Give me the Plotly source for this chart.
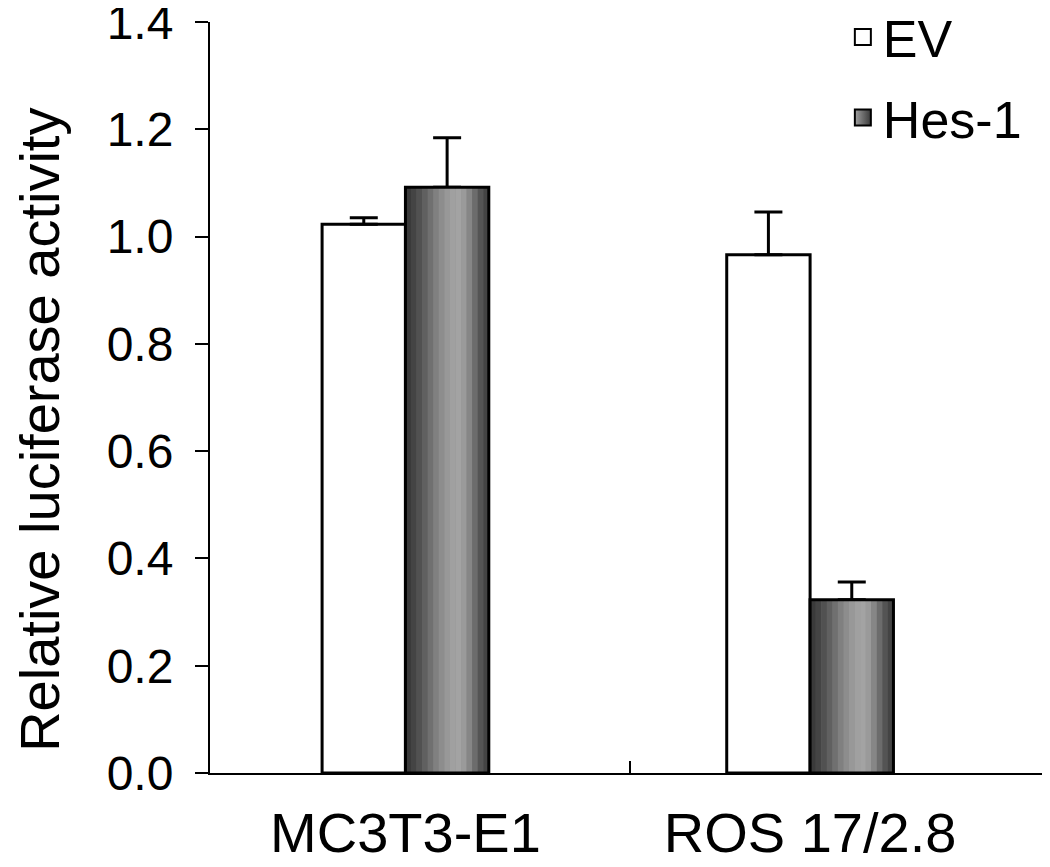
import plotly.graph_objects as go

# ---- data ----
categories = ["MC3T3-E1", "ROS 17/2.8"]
ev_values = [1.023, 0.966]
ev_errors = [0.012, 0.080]
hes_values = [1.092, 0.323]
hes_errors = [0.092, 0.033]
series_names = ["EV", "Hes-1"]
y_ticks = [0.0, 0.2, 0.4, 0.6, 0.8, 1.0, 1.2, 1.4]
y_title = "Relative luciferase activity"

# ---- style ----
FONT = "Liberation Sans, Arial, sans-serif"
BAR_W = 0.206
STRIPES = ['#3a3a3a', '#444444', '#515151', '#606060', '#707070', '#808080', '#8d8d8d',
           '#989898', '#a0a0a0', '#a3a3a3', '#9a9a9a', '#868686', '#6c6c6c', '#545454', '#444444']

xpos = list(range(len(categories)))
err_style = dict(type="data", symmetric=False, thickness=3, width=14, color="black")

fig = go.Figure()

# EV bars
fig.add_trace(go.Bar(
    x=xpos, y=ev_values, width=BAR_W, offset=-BAR_W,
    marker=dict(color="white", line=dict(color="black", width=3)),
    error_y=dict(array=ev_errors, arrayminus=[0] * len(ev_values), **err_style),
    showlegend=False, name=series_names[0]))

# Hes-1 base bar (carries error bars)
fig.add_trace(go.Bar(
    x=xpos, y=hes_values, width=BAR_W, offset=0,
    marker=dict(color="#7a7a7a", line=dict(color="black", width=0)),
    error_y=dict(array=hes_errors, arrayminus=[0] * len(hes_values), **err_style),
    showlegend=False, name=series_names[1]))

# Hes-1 gradient stripes
n = len(STRIPES)
sw = BAR_W / n
for k, c in enumerate(STRIPES):
    fig.add_trace(go.Bar(
        x=xpos, y=hes_values, width=sw * 1.05, offset=k * sw,
        marker=dict(color=c, line=dict(width=0)),
        showlegend=False, hoverinfo="skip"))

# Hes-1 outline
fig.add_trace(go.Bar(
    x=xpos, y=hes_values, width=BAR_W, offset=0,
    marker=dict(color="rgba(0,0,0,0)", line=dict(color="black", width=3)),
    showlegend=False, hoverinfo="skip"))

# legend entries
fig.add_trace(go.Scatter(
    x=[None], y=[None], mode="markers", name=series_names[0], legendgroup="a",
    marker=dict(symbol="square", size=16, color="white", line=dict(color="black", width=2))))
fig.add_trace(go.Scatter(
    x=[None], y=[None], mode="markers", name=series_names[1], legendgroup="b",
    marker=dict(symbol="square", size=16, color="#a0a0a0",
                gradient=dict(type="horizontal", color="#3a3a3a"),
                line=dict(color="black", width=2))))

fig.add_annotation(
    text=y_title, xref="paper", yref="paper", x=-0.2033, y=0.457,
    xanchor="center", yanchor="middle", textangle=-90, showarrow=False,
    font=dict(size=56, family=FONT, color="black"))

fig.update_layout(
    width=1042, height=859,
    margin=dict(l=202, r=4, t=14, b=94, autoexpand=False),
    paper_bgcolor="white", plot_bgcolor="white",
    barmode="overlay",
    font=dict(family=FONT, color="black"),
    legend=dict(x=0.757, y=1.0337, xanchor="left", yanchor="top",
                font=dict(size=52, family=FONT), bgcolor="rgba(0,0,0,0)",
                traceorder="grouped", tracegroupgap=10),
    xaxis=dict(
        range=[-0.483, 1.583], showgrid=False, zeroline=False, automargin=False,
        showline=True, linecolor="black", linewidth=2,
        tickmode="array", tickvals=xpos, ticktext=categories, ticks="",
        tickfont=dict(size=56, family=FONT), ticklabelstandoff=10,
        ticklabeloverflow="allow",
        minor=dict(tickmode="array", tickvals=[0.555, 1.583], ticks="inside",
                   ticklen=12, tickwidth=2, tickcolor="black"),
    ),
    yaxis=dict(
        range=[0, 1.4], showgrid=False, zeroline=False, automargin=False,
        showline=True, linecolor="black", linewidth=2,
        tickmode="array", tickvals=y_ticks, tickformat=".1f",
        ticks="outside", ticklen=13, tickwidth=2, tickcolor="black",
        tickfont=dict(size=48, family=FONT), ticklabelstandoff=12,
        ticklabeloverflow="allow",
    ),
)

fig.write_html("out.html")
